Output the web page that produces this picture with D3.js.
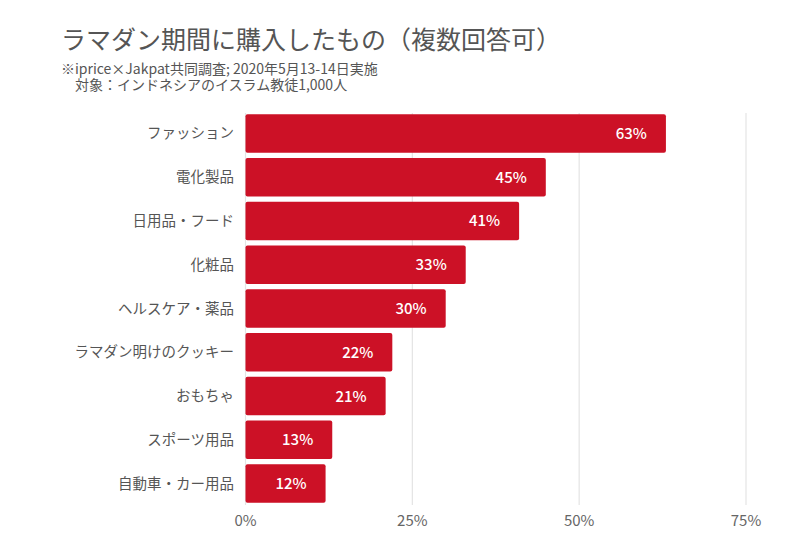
<!DOCTYPE html>
<html>
<head>
<meta charset="utf-8">
<script src="https://cdn.jsdelivr.net/npm/d3@7"></script>
<style>
  html, body { margin: 0; background: #fff; }
  svg { display: block; }
  text { font-family: "Noto Sans CJK JP", "Noto Sans", sans-serif; }
  .title { font-size: 25px; fill: #555; }
  .sub { font-size: 14px; fill: #555; }
  .cat { font-size: 14.5px; fill: #555; }
  .tick-label { font-size: 15px; fill: #666; }
  .val { font-size: 15px; font-weight: 500; fill: #fff; }
</style>
</head>
<body>
<div id="chart"></div>
<script>
const categories = ["ファッション", "電化製品", "日用品・フード", "化粧品", "ヘルスケア・薬品",
  "ラマダン明けのクッキー", "おもちゃ", "スポーツ用品", "自動車・カー用品"];
const values = [63, 45, 41, 33, 30, 22, 21, 13, 12];
const ticks = [0, 25, 50, 75];
const titleText = "ラマダン期間に購入したもの（複数回答可）";
const subLines = ["※iprice×Jakpat共同調査; 2020年5月13-14日実施", "　対象：インドネシアのイスラム教徒1,000人"];

const W = 800, H = 557;
const svg = d3.select("#chart").append("svg").attr("width", W).attr("height", H);
const x = d3.scaleLinear([0, 75], [245.5, 746]);
const y = d3.scaleBand(categories, [111.5, 505.5]).paddingInner(0.12).paddingOuter(0.06);

svg.append("text").attr("class", "title").attr("x", 61).attr("y", 49).text(titleText);
svg.selectAll(".sub").data(subLines).join("text").attr("class", "sub")
  .attr("x", 61).attr("y", (_, i) => 74 + i * 16).text(d => d);

// gridlines
svg.selectAll(".grid").data(ticks).join("line").attr("class", "grid")
  .attr("x1", d => x(d)).attr("x2", d => x(d)).attr("y1", 113).attr("y2", 505)
  .attr("stroke", "#e4e4e4").attr("stroke-width", 1.2);
svg.selectAll(".tick-label").data(ticks).join("text").attr("class", "tick-label")
  .attr("x", d => x(d)).attr("y", 526).attr("text-anchor", "middle").text(d => d + "%");

svg.selectAll(".bar").data(values).join("rect").attr("class", "bar")
  .attr("x", x(0)).attr("y", (_, i) => y(categories[i]))
  .attr("width", d => x(d) - x(0)).attr("height", y.bandwidth())
  .attr("rx", 2).attr("fill", "#cc1126");

svg.selectAll(".cat").data(categories).join("text").attr("class", "cat")
  .attr("x", 234).attr("y", d => y(d) + y.bandwidth() / 2 + 5)
  .attr("text-anchor", "end").text(d => d);
svg.selectAll(".val").data(values).join("text").attr("class", "val")
  .attr("x", d => x(d) - 19).attr("y", (_, i) => y(categories[i]) + y.bandwidth() / 2 + 5.5)
  .attr("text-anchor", "end").text(d => d + "%");
</script>
</body>
</html>
